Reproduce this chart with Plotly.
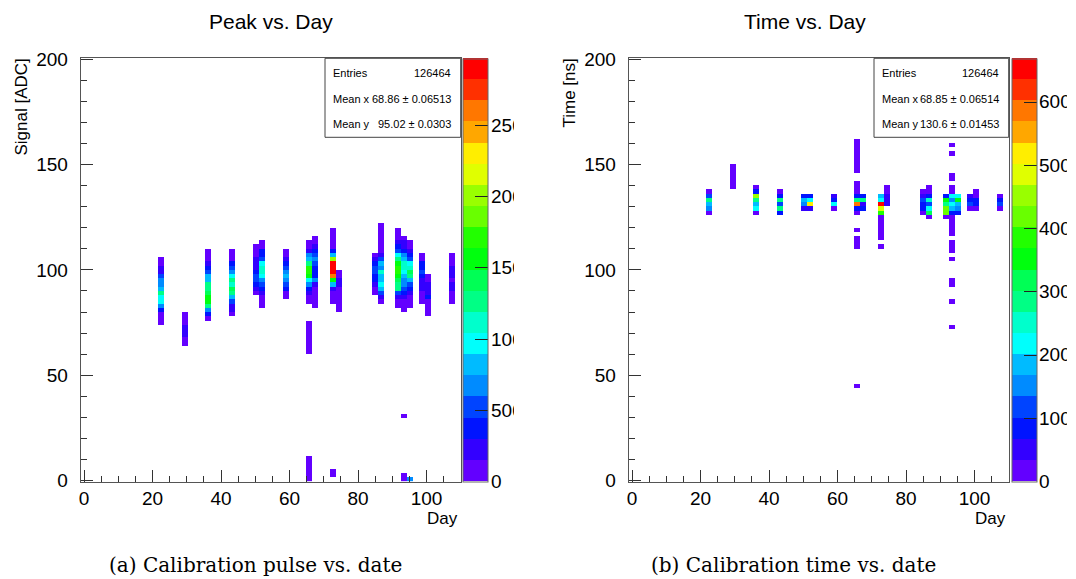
import plotly.graph_objects as go

W, H = 1076, 579

# ---------------- histogram binning (ROOT TH2) ----------------
NX, X_LO, X_HI = 64, -1.0, 110.0
NY, Y_LO, Y_HI = 100, -0.5, 200.5

# ---------------- data: (x bin, first y bin, counts going up) ----------------
peak_cols = [
    (13, 37, [60, 110, 130, 380, 690, 980, 1000, 1290, 850, 700, 680, 540, 240, 230, 120, 50]),
    (17, 32, [40, 120, 190, 230, 200, 130, 90, 40]),
    (21, 38, [80, 390, 700, 1300, 1600, 1580, 1450, 1280, 1250, 840, 830, 530, 380, 240, 130, 90, 40]),
    (25, 39, [90, 200, 250, 530, 850, 1290, 1430, 1150, 1270, 990, 690, 540, 390, 140, 100, 50]),
    (29, 44, [100, 240, 400, 560, 530, 410, 260, 230, 190, 130, 90, 50]),
    (30, 41, [60, 100, 140, 250, 400, 560, 700, 990, 1140, 1120, 980, 540, 390, 370, 130, 60]),
    (34, 43, [70, 120, 400, 530, 700, 850, 690, 540, 380, 230, 120, 60]),
    (38, 42, [70, 130, 240, 390, 700, 990, 1580, 1730, 1700, 1290, 840, 690, 230, 120, 50]),
    (38, 30, [30, 60, 80, 100, 110, 90, 70, 40]),
    (38, 0, [50, 60, 40, 40, 30, 20]),
    (39, 41, [40, 80, 110, 120, 140, 230, 680, 380, 400, 370, 520, 690, 540, 380, 240, 120, 50]),
    (42, 42, [60, 100, 140, 250, 830, 1570, 2620, 2880, 2930, 2850, 2020, 840, 380, 140, 110, 90, 70, 40]),
    (42, 1, [40, 60]),
    (43, 40, [50, 70, 90, 110, 130, 140, 200, 170, 100, 50]),
    (49, 44, [60, 130, 230, 380, 400, 540, 520, 380, 230, 80]),
    (50, 42, [90, 250, 540, 830, 980, 850, 820, 1130, 700, 830, 530, 240, 130, 110, 90, 80, 60, 50, 30]),
    (53, 41, [60, 120, 250, 540, 1280, 1300, 1420, 1590, 1720, 1690, 1570, 1260, 980, 530, 380, 220, 120, 80, 40]),
    (54, 40, [60, 110, 140, 240, 390, 530, 690, 680, 840, 980, 1120, 1140, 830, 700, 380, 230, 210, 80]),
    (54, 15, [60]),
    (54, 0, [90, 60]),
    (55, 41, [50, 90, 130, 230, 390, 540, 840, 1270, 1400, 1130, 990, 530, 380, 240, 120, 60]),
    (55, 0, [680]),
    (57, 42, [60, 100, 130, 200, 240, 260, 390, 520, 400, 370, 130, 60]),
    (58, 39, [40, 80, 100, 120, 380, 230, 210, 190, 110, 50]),
    (62, 42, [50, 90, 130, 190, 200, 140, 220, 240, 200, 130, 80, 50]),
]

time_cols = [
    (13, 63, [150, 1500, 1840, 2840, 1170, 200]),
    (17, 69, [120, 200, 250, 260, 220, 100]),
    (21, 63, [150, 2170, 1840, 2840, 4520, 840, 200]),
    (25, 63, [840, 2840, 1170, 2840, 840, 200]),
    (29, 64, [500, 1500, 1840, 840]),
    (30, 64, [500, 5190, 2170, 840]),
    (34, 64, [200, 2170, 840, 500]),
    (38, 63, [150, 840, 5850, 2840, 840, 300, 150]),
    (38, 70, [100]),
    (38, 73, [100, 150, 200, 180, 160, 150, 120, 80]),
    (38, 59, [100]),
    (38, 55, [120, 150, 100]),
    (38, 22, [60]),
    (39, 64, [840, 500, 2840, 840]),
    (42, 57, [100, 130, 150, 170, 200, 260, 3850, 4850, 6520, 2170, 1840]),
    (42, 55, [120]),
    (43, 65, [500, 520, 480, 250, 150]),
    (49, 63, [200, 840, 900, 1170, 500, 150]),
    (50, 62, [200, 3180, 2170, 1170, 2510, 840, 250, 150]),
    (53, 62, [250, 4300, 4180, 2840, 3510, 840]),
    (54, 58, [120, 150, 170, 200, 260, 840, 1840, 2170, 1500, 2170, 300, 150]),
    (54, 79, [60]),
    (54, 77, [80]),
    (54, 71, [100, 120]),
    (54, 54, [100, 130, 120]),
    (54, 52, [60]),
    (54, 46, [80, 70]),
    (54, 42, [50]),
    (54, 36, [50]),
    (55, 63, [840, 1500, 1840, 3510, 2170]),
    (57, 64, [200, 1170, 840, 500]),
    (58, 64, [200, 840, 840, 300, 150]),
    (62, 64, [200, 1170, 840, 250]),
]

peak_zmax = 2970
time_zmax = 6690
peak_cbar_ticks = [0, 500, 1000, 1500, 2000, 2500]
time_cbar_ticks = [0, 1000, 2000, 3000, 4000, 5000, 6000]

peak_stats = [("Entries", "126464"), ("Mean x", "68.86 \u00b1 0.06513"), ("Mean y", "95.02 \u00b1 0.0303")]
time_stats = [("Entries", "126464"), ("Mean x", "68.85 \u00b1 0.06514"), ("Mean y", "130.6 \u00b1 0.01453")]

titles = ["Peak vs. Day", "Time vs. Day"]
ytitles = ["Signal [ADC]", "Time [ns]"]
xtitle = "Day"
captions = ["(a) Calibration pulse vs. date", "(b) Calibration time vs. date"]

# ---------------- helpers ----------------
dx = (X_HI - X_LO) / NX
dy = (Y_HI - Y_LO) / NY
xc = [X_LO + (i + 0.5) * dx for i in range(NX)]
yc = [Y_LO + (j + 0.5) * dy for j in range(NY)]


def build_z(cols):
    z = [[None] * NX for _ in range(NY)]
    for ix, j0, vals in cols:
        for k, v in enumerate(vals):
            z[j0 + k][ix] = v
    return z


# ROOT "pretty palette" (palette 1), 20 contour levels
hues = [263.2, 252, 235.2, 224, 207.2, 196, 179.2, 168, 151.2, 140,
        123.2, 112, 95.2, 84, 67.2, 56, 39.2, 28, 11.2, 0]


def hue_rgb(h):
    h = h % 360
    seg = h / 60.0
    i = int(seg)
    f = seg - i
    table = [(1, f, 0), (1 - f, 1, 0), (0, 1, f), (0, 1 - f, 1), (f, 0, 1), (1, 0, 1 - f)]
    r, g, b = table[i % 6]
    return "rgb(%d,%d,%d)" % (round(r * 255), round(g * 255), round(b * 255))


cols20 = [hue_rgb(h) for h in hues]
cscale = []
for k, c in enumerate(cols20):
    cscale.append([k / 20.0, c])
    cscale.append([(k + 1) / 20.0, c])


def xp(px):
    return px / W


def yp(py):
    return 1 - py / H


FONT = "Liberation Sans, Arial, Helvetica, sans-serif"
SERIF = "DejaVu Serif, serif"

FRAME_TOP, FRAME_BOT = 58.3, 481.5
panels = [
    dict(x0=80.7, x1=460.7, cb=463.3, zmax=peak_zmax, ticks=peak_cbar_ticks, cols=peak_cols,
         stats=peak_stats, box_x0=325.0, title_c=271, cap_c=255, ytitle_x=21, clipw=23),
    dict(x0=628.7, x1=1008.7, cb=1011.5, zmax=time_zmax, ticks=time_cbar_ticks, cols=time_cols,
         stats=time_stats, box_x0=874.0, title_c=805, cap_c=793, ytitle_x=569, clipw=28),
]

fig = go.Figure()
annotations = []
shapes = []

for i, p in enumerate(panels):
    sfx = "" if i == 0 else "2"
    fig.add_trace(go.Heatmap(
        x=xc, y=yc, z=build_z(p["cols"]),
        xaxis="x" + sfx, yaxis="y" + sfx,
        zmin=0, zmax=p["zmax"], colorscale=cscale, zsmooth=False,
        hoverongaps=False,
        colorbar=dict(
            x=xp(p["cb"]), xanchor="left", xref="container",
            y=yp(FRAME_BOT), yanchor="bottom", yref="container",
            len=(FRAME_BOT - FRAME_TOP) / H, lenmode="fraction",
            thickness=25, thicknessmode="pixels", xpad=0, ypad=0,
            outlinewidth=1, outlinecolor="#666",
            tickmode="array", tickvals=p["ticks"], ticks="inside", ticklen=13,
            tickcolor="#222", tickwidth=1, showticklabels=False,
        ),
    ))
    ax = dict(domain=[xp(p["x0"]), xp(p["x1"])], range=[X_LO, X_HI],
              tick0=0, dtick=20, ticks="inside", ticklen=12, tickwidth=1, tickcolor="#333",
              showline=True, mirror=True, linecolor="#555", linewidth=1,
              showgrid=False, zeroline=False,
              tickfont=dict(family=FONT, size=19, color="black"),
              ticklabelstandoff=0,
              minor=dict(tick0=0, dtick=5, ticks="inside", ticklen=6, tickcolor="#333", showgrid=False),
              anchor="y" + sfx, automargin=False)
    ay = dict(domain=[yp(FRAME_BOT), yp(FRAME_TOP)], range=[Y_LO, Y_HI],
              tick0=0, dtick=50, ticks="inside", ticklen=12, tickwidth=1, tickcolor="#333",
              showline=True, mirror=True, linecolor="#555", linewidth=1,
              showgrid=False, zeroline=False,
              tickfont=dict(family=FONT, size=19, color="black"),
              ticklabelstandoff=8,
              minor=dict(tick0=0, dtick=10, ticks="inside", ticklen=6, tickcolor="#333", showgrid=False),
              anchor="x" + sfx, automargin=False)
    fig.update_layout(**{"xaxis" + sfx: ax, "yaxis" + sfx: ay})

    # colorbar labels (clipped by the pad edge as in the original)
    for v in p["ticks"]:
        py = FRAME_BOT - v / p["zmax"] * (FRAME_BOT - FRAME_TOP)
        annotations.append(dict(text=str(v), x=xp(p["cb"] + 26.5), y=yp(py), xref="paper", yref="paper",
                                xanchor="left", yanchor="middle", showarrow=False, align="left",
                                width=p["clipw"], borderpad=0,
                                font=dict(family=FONT, size=19, color="black")))

    # stats box
    shapes.append(dict(type="rect", xref="paper", yref="paper",
                       x0=xp(p["box_x0"]), x1=xp(p["x1"]), y0=yp(137.3), y1=yp(FRAME_TOP),
                       line=dict(color="#444", width=1), fillcolor="white", layer="above"))
    for (lab, val), py in zip(p["stats"], [72.7, 99.3, 124.0]):
        annotations.append(dict(text=lab, x=xp(p["box_x0"] + 5.5), y=yp(py), xref="paper", yref="paper",
                                xanchor="left", yanchor="middle", showarrow=False,
                                font=dict(family=FONT, size=11, color="black")))
        annotations.append(dict(text=val, x=xp(p["x1"] - 8), y=yp(py), xref="paper", yref="paper",
                                xanchor="right", yanchor="middle", showarrow=False,
                                font=dict(family=FONT, size=11, color="black")))

    # titles
    annotations.append(dict(text=titles[i], x=xp(p["title_c"]), y=yp(21), xref="paper", yref="paper",
                            xanchor="center", yanchor="middle", showarrow=False,
                            font=dict(family=FONT, size=21, color="black")))
    annotations.append(dict(text=ytitles[i], x=xp(p["ytitle_x"]), y=yp(57), xref="paper", yref="paper",
                            xanchor="center", yanchor="top", textangle=-90, showarrow=False,
                            font=dict(family=FONT, size=17, color="black")))
    annotations.append(dict(text=xtitle, x=xp(p["x1"] - 1), y=yp(518), xref="paper", yref="paper",
                            xanchor="right", yanchor="middle", showarrow=False,
                            font=dict(family=FONT, size=17, color="black")))
    annotations.append(dict(text=captions[i], x=xp(p["cap_c"]), y=yp(565), xref="paper", yref="paper",
                            xanchor="center", yanchor="middle", showarrow=False,
                            font=dict(family=SERIF, size=20, color="black")))

fig.update_layout(
    width=W, height=H, autosize=False,
    margin=dict(l=0, r=0, t=0, b=0, pad=0, autoexpand=False),
    paper_bgcolor="white", plot_bgcolor="white",
    showlegend=False,
    annotations=annotations, shapes=shapes,
)

fig.write_html("out.html", include_plotlyjs=True, config={"displayModeBar": False})
